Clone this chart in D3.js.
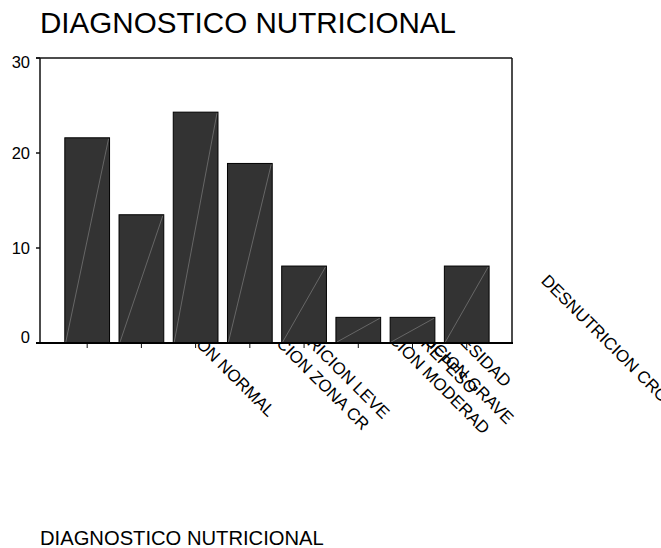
<!DOCTYPE html>
<html>
<head>
<meta charset="utf-8">
<script src="https://cdn.jsdelivr.net/npm/d3@7"></script>
<style>
  html, body { margin: 0; padding: 0; background: #fff; }
  svg { display: block; font-family: "Liberation Sans", Arial, sans-serif; }
</style>
</head>
<body>
<svg id="chart" width="661" height="548"></svg>
<script>
// Category labels as stored in the data file (20-character value labels)
const categories = [
  "NUTRICION NORMAL",
  "DESNUTRICION ZONA CR",
  "DESNUTRICION LEVE",
  "DESNUTRICION MODERAD",
  "DESNUTRICION GRAVE",
  "SOBREPESO",
  "OBESIDAD",
  "DESNUTRICION CRONICA"
];
// Percent of cases in each category
const percents = [21.6, 13.5, 24.3, 18.9, 8.1, 2.7, 2.7, 8.1];
const yTicks = [0, 10, 20, 30];
const chartTitle = "DIAGNOSTICO NUTRICIONAL";
const axisTitle = "DIAGNOSTICO NUTRICIONAL";

const svg = d3.select("#chart");
const plot = { left: 40, right: 512, top: 58, bottom: 343 };

const x = d3.scaleBand()
  .domain(categories)
  .range([plot.left, plot.right])
  .paddingInner(0.175)
  .paddingOuter(0.44)
  .align(0.52);

const y = d3.scaleLinear()
  .domain([0, 30])
  .range([plot.bottom, plot.top]);

// Title
svg.append("text")
  .attr("x", 40).attr("y", 33)
  .attr("font-size", 29.6)
  .attr("fill", "#000")
  .text(chartTitle);

// Rotated category labels: drawn first so the plot area covers their upper part
const labelSize = 17;
const labels = svg.append("g").attr("class", "cat-labels");
labels.selectAll("text")
  .data(categories)
  .join("text")
  .attr("font-size", labelSize)
  .attr("fill", "#000")
  .attr("text-anchor", "middle")
  .text(d => d)
  .each(function (d) {
    const w = this.getComputedTextLength();
    const cx = x(d) + x.bandwidth() / 2 + w * Math.SQRT1_2 - 1.5;
    d3.select(this).attr("transform", `translate(${cx},${plot.bottom + 14}) rotate(45)`);
  });

// Plot background
svg.append("rect")
  .attr("x", plot.left).attr("y", plot.top)
  .attr("width", plot.right - plot.left)
  .attr("height", plot.bottom - plot.top)
  .attr("fill", "#fff");

// Bars
const bars = svg.append("g").attr("class", "bars");
bars.selectAll("rect")
  .data(categories)
  .join("rect")
  .attr("x", d => x(d))
  .attr("y", (d, i) => y(percents[i]))
  .attr("width", x.bandwidth())
  .attr("height", (d, i) => y(0) - y(percents[i]))
  .attr("fill", "#333333")
  .attr("stroke", "#000")
  .attr("stroke-width", 1);

// Fine diagonal highlight inside each bar
bars.selectAll("line")
  .data(categories)
  .join("line")
  .attr("x1", d => x(d) + 1)
  .attr("y1", y(0) - 1)
  .attr("x2", d => x(d) + x.bandwidth() - 1)
  .attr("y2", (d, i) => y(percents[i]) + 1)
  .attr("stroke", "#8a8a8a")
  .attr("stroke-width", 0.6);

// Frame: top, left and right sides
const frame = svg.append("g").attr("stroke", "#111").attr("fill", "none");
frame.append("line")
  .attr("x1", plot.left - 4).attr("x2", plot.right)
  .attr("y1", plot.top).attr("y2", plot.top)
  .attr("stroke-width", 1.5);
frame.append("line")
  .attr("x1", plot.left).attr("x2", plot.left)
  .attr("y1", plot.top).attr("y2", plot.bottom)
  .attr("stroke-width", 1.5);
frame.append("line")
  .attr("x1", plot.right).attr("x2", plot.right)
  .attr("y1", plot.top).attr("y2", plot.bottom)
  .attr("stroke-width", 1.5);

// Y axis ticks and labels
const yAxis = svg.append("g");
yAxis.selectAll("line")
  .data(yTicks)
  .join("line")
  .attr("x1", plot.left - 4).attr("x2", plot.left)
  .attr("y1", d => y(d)).attr("y2", d => y(d))
  .attr("stroke", "#111").attr("stroke-width", 1.5);
yAxis.selectAll("text")
  .data(yTicks)
  .join("text")
  .attr("x", plot.left - 10)
  .attr("y", d => Math.min(Math.max(y(d), plot.top + 4), plot.bottom - 6))
  .attr("dy", "0.36em")
  .attr("text-anchor", "end")
  .attr("font-size", 16.5)
  .attr("fill", "#000")
  .text(d => d);

// Category axis line and ticks
svg.append("line")
  .attr("x1", plot.left - 4).attr("x2", plot.right + 1)
  .attr("y1", plot.bottom).attr("y2", plot.bottom)
  .attr("stroke", "#000").attr("stroke-width", 2);
svg.append("g").selectAll("line")
  .data(categories)
  .join("line")
  .attr("x1", d => x(d) + x.bandwidth() / 2)
  .attr("x2", d => x(d) + x.bandwidth() / 2)
  .attr("y1", plot.bottom + 1).attr("y2", plot.bottom + 5)
  .attr("stroke", "#111").attr("stroke-width", 1);

// Axis title
svg.append("text")
  .attr("x", 40).attr("y", 545)
  .attr("font-size", 20.2)
  .attr("fill", "#000")
  .text(axisTitle);
</script>
</body>
</html>
